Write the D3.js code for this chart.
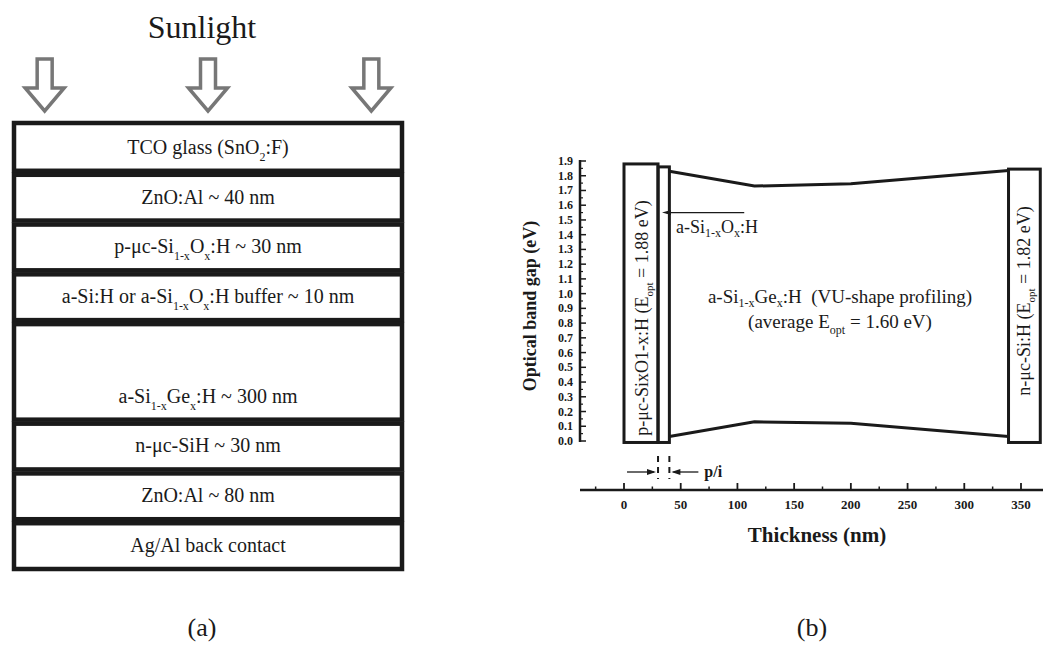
<!DOCTYPE html>
<html>
<head>
<meta charset="utf-8">
<script src="https://cdn.jsdelivr.net/npm/d3@7"></script>
<style>
  body { margin: 0; background: #fff; }
</style>
</head>
<body>
<div id="vis"></div>
<script>
// ==== DATA ====
// (a) device stack, top to bottom; _{..} marks a subscript
const layerLabels = [
  "TCO glass (SnO_{2}:F)",
  "ZnO:Al ~ 40 nm",
  "p-μc-Si_{1-x}O_{x}:H ~ 30 nm",
  "a-Si:H or a-Si_{1-x}O_{x}:H buffer ~ 10 nm",
  "a-Si_{1-x}Ge_{x}:H ~ 300 nm",
  "n-μc-SiH ~ 30 nm",
  "ZnO:Al ~ 80 nm",
  "Ag/Al back contact"
];
const layerRows = [1, 1, 1, 1, 2, 1, 1, 1];
const sunArrows = ["left", "centre", "right"];

// (b) band profile
const pLayer = {from: 0, to: 30, eopt: 1.88};
const bufferLayer = {from: 30, to: 40, top: 1.86};
const nLayer = {from: 339, to: 367, top: 1.845};
const profileThickness = [40, 115, 200, 339];
const conductionEdge = [1.83, 1.73, 1.745, 1.835];
const valenceEdge = [0.03, 0.13, 0.12, 0.03];
const yTicks = d3.range(0, 20).map(i => i / 10);
const xTicks = [0, 50, 100, 150, 200, 250, 300, 350];
const xMinorTicks = [-25, 25, 75, 125, 175, 225, 275, 325, 375];
const labelArrowEnergy = 1.55;

const width = 1043, height = 646;
const serif = "'Liberation Serif', 'Times New Roman', Times, serif";
const svg = d3.select("#vis").append("svg")
  .attr("width", width).attr("height", height)
  .attr("font-family", serif)
  .style("font-family", serif);

// text with _{sub} parts
function richText(sel, str, subSize, shift) {
  const parts = str.split(/(_\{[^}]*\})/).filter(s => s.length);
  let down = false;
  parts.forEach(p => {
    if (p.startsWith("_{")) {
      sel.append("tspan").attr("dy", shift).style("font-size", subSize + "px")
        .text(p.slice(2, -1));
      down = true;
    } else {
      const t = sel.append("tspan").text(p);
      if (down) { t.attr("dy", -shift); down = false; }
    }
  });
  return sel;
}

// ==== (a) STACK ====
const stackX = [12, 404];
const rowScale = d3.scaleLinear()
  .domain([0, d3.sum(layerRows)])
  .range([123, 571]);
const cum = d3.cumsum(layerRows);
const gapPx = 4;

svg.append("text")
  .attr("x", 202).attr("y", 38)
  .attr("text-anchor", "middle")
  .attr("fill", "#1a1a1a")
  .style("font-size", "32px")
  .text("Sunlight");

const arrowX = d3.scalePoint().domain(sunArrows).range(stackX).padding(0.2);
const arrowPath = cx => {
  const sw = 7.5, hw = 19.5, top = 59, neck = 88, tip = 111;
  return `M${cx - sw},${top}H${cx + sw}V${neck}H${cx + hw}L${cx},${tip}L${cx - hw},${neck}H${cx - sw}Z`;
};
svg.selectAll("path.sun")
  .data(sunArrows).enter().append("path")
  .attr("class", "sun")
  .attr("d", d => arrowPath(arrowX(d)))
  .attr("fill", "none")
  .attr("stroke", "#777")
  .attr("stroke-width", 3.5);

const layerG = svg.selectAll("g.layer")
  .data(layerLabels).enter().append("g").attr("class", "layer");

layerG.append("rect")
  .attr("x", stackX[0] + 2)
  .attr("width", stackX[1] - stackX[0] - 4)
  .attr("y", (d, i) => rowScale(cum[i] - layerRows[i]) + (i ? gapPx / 2 : 0))
  .attr("height", (d, i) => rowScale(cum[i]) - rowScale(cum[i] - layerRows[i]) - gapPx - (i ? 0 : -gapPx / 2))
  .attr("fill", "none")
  .attr("stroke", "#1a1a1a")
  .attr("stroke-width", 4.5);

layerG.append("text")
  .attr("x", 208)
  .attr("y", (d, i) => rowScale(cum[i]) - gapPx / 2 - 17)
  .attr("text-anchor", "middle")
  .attr("fill", "#1a1a1a")
  .style("font-size", "20px")
  .each(function(d) { richText(d3.select(this), d, 12, 7); });

svg.append("text")
  .attr("x", 202).attr("y", 636)
  .attr("text-anchor", "middle")
  .attr("fill", "#1a1a1a")
  .style("font-size", "26px")
  .text("(a)");

// ==== (b) BAND DIAGRAM ====
const x = d3.scaleLinear().domain([0, 350]).range([624, 1021]);
const y = d3.scaleLinear().domain([0, 1.9]).range([441, 161]);
const axisY = 490;
const bold = "bold";

// y axis
const yAxisX = 580;
svg.append("line")
  .attr("x1", yAxisX).attr("x2", yAxisX)
  .attr("y1", y(0) + 1).attr("y2", y(1.9) - 1)
  .attr("stroke", "#1a1a1a").attr("stroke-width", 2.5);
svg.selectAll("line.ytick")
  .data(yTicks).enter().append("line")
  .attr("x1", yAxisX).attr("x2", yAxisX + 6)
  .attr("y1", d => y(d)).attr("y2", d => y(d))
  .attr("stroke", "#1a1a1a").attr("stroke-width", 1.5);
svg.selectAll("line.ytickm")
  .data(yTicks.slice(0, -1)).enter().append("line")
  .attr("x1", yAxisX).attr("x2", yAxisX + 3)
  .attr("y1", d => y(d + 0.05)).attr("y2", d => y(d + 0.05))
  .attr("stroke", "#1a1a1a").attr("stroke-width", 1.2);
svg.selectAll("text.ylab")
  .data(yTicks).enter().append("text")
  .attr("x", 573).attr("y", d => y(d) + 4)
  .attr("text-anchor", "end")
  .attr("fill", "#1a1a1a")
  .style("font-size", "12px").style("font-weight", bold)
  .text(d => d3.format(".1f")(d));
svg.append("text")
  .attr("transform", "translate(536,306) rotate(-90)")
  .attr("text-anchor", "middle")
  .attr("fill", "#1a1a1a")
  .style("font-size", "18px").style("font-weight", bold)
  .text("Optical band gap (eV)");

// x axis
svg.append("line")
  .attr("x1", 580).attr("x2", width)
  .attr("y1", axisY).attr("y2", axisY)
  .attr("stroke", "#1a1a1a").attr("stroke-width", 2.5);
svg.selectAll("line.xtick")
  .data(xTicks).enter().append("line")
  .attr("x1", d => x(d)).attr("x2", d => x(d))
  .attr("y1", axisY).attr("y2", axisY - 7)
  .attr("stroke", "#1a1a1a").attr("stroke-width", 1.8);
svg.selectAll("line.xtickm")
  .data(xMinorTicks).enter().append("line")
  .attr("x1", d => x(d)).attr("x2", d => x(d))
  .attr("y1", axisY).attr("y2", axisY - 3.5)
  .attr("stroke", "#1a1a1a").attr("stroke-width", 1.5);
svg.selectAll("text.xlab")
  .data(xTicks).enter().append("text")
  .attr("x", d => x(d)).attr("y", 509)
  .attr("text-anchor", "middle")
  .attr("fill", "#1a1a1a")
  .style("font-size", "13px").style("font-weight", bold)
  .text(d => d);
svg.append("text")
  .attr("x", 817).attr("y", 542)
  .attr("text-anchor", "middle")
  .attr("fill", "#1a1a1a")
  .style("font-size", "21px").style("font-weight", bold)
  .text("Thickness (nm)");

// layer boxes
const boxes = [
  {from: pLayer.from, to: pLayer.to, top: pLayer.eopt},
  bufferLayer,
  nLayer
];
svg.selectAll("rect.band")
  .data(boxes).enter().append("rect")
  .attr("x", d => x(d.from))
  .attr("width", d => x(d.to) - x(d.from))
  .attr("y", d => y(d.top))
  .attr("height", d => y(-0.01) - y(d.top))
  .attr("fill", "none")
  .attr("stroke", "#1a1a1a").attr("stroke-width", 3);

// band edges
const edge = d3.line().x(d => x(d[0])).y(d => y(d[1]));
[conductionEdge, valenceEdge].forEach(e => {
  svg.append("path")
    .attr("d", edge(d3.zip(profileThickness, e)))
    .attr("fill", "none")
    .attr("stroke", "#1a1a1a").attr("stroke-width", 3);
});

// vertical labels
svg.append("text")
  .attr("transform", `translate(${x((pLayer.from + pLayer.to) / 2) + 7},318) rotate(-90)`)
  .attr("text-anchor", "middle")
  .attr("fill", "#1a1a1a")
  .style("font-size", "18px")
  .each(function() { richText(d3.select(this), "p-μc-SixO1-x:H (E_{opt} = 1.88 eV)", 11, 5); });
svg.append("text")
  .attr("transform", `translate(${x((nLayer.from + nLayer.to) / 2) + 6},301) rotate(-90)`)
  .attr("text-anchor", "middle")
  .attr("fill", "#1a1a1a")
  .style("font-size", "18px")
  .each(function() { richText(d3.select(this), "n-μc-Si:H (E_{opt} = 1.82 eV)", 11, 5); });

// a-Si1-xOx:H pointer
const ay = y(labelArrowEnergy);
svg.append("line")
  .attr("x1", x(106)).attr("x2", x(bufferLayer.from) + 8)
  .attr("y1", ay).attr("y2", ay)
  .attr("stroke", "#1a1a1a").attr("stroke-width", 1.3);
svg.append("path")
  .attr("d", `M${x(bufferLayer.from) + 4},${ay}l9,-2.5v5z`)
  .attr("fill", "#1a1a1a");
svg.append("text")
  .attr("x", 676).attr("y", ay + 20)
  .attr("fill", "#1a1a1a")
  .style("font-size", "18px")
  .each(function() { richText(d3.select(this), "a-Si_{1-x}O_{x}:H", 12, 4); });

// centre label
svg.append("text")
  .attr("x", 840).attr("y", 303)
  .attr("text-anchor", "middle")
  .attr("fill", "#1a1a1a")
  .style("font-size", "19px")
  .style("white-space", "pre")
  .each(function() { richText(d3.select(this), "a-Si_{1-x}Ge_{x}:H  (VU-shape profiling)", 12, 4); });
svg.append("text")
  .attr("x", 840).attr("y", 328)
  .attr("text-anchor", "middle")
  .attr("fill", "#1a1a1a")
  .style("font-size", "19px")
  .each(function() { richText(d3.select(this), "(average E_{opt} = 1.60 eV)", 12, 6); });

// p/i interface marker
[bufferLayer.from, bufferLayer.to].forEach(v => {
  svg.append("line")
    .attr("x1", x(v)).attr("x2", x(v))
    .attr("y1", 456).attr("y2", 479)
    .attr("stroke", "#1a1a1a").attr("stroke-width", 2)
    .attr("stroke-dasharray", "6,5");
});
const py = 472;
const xl = x(bufferLayer.from), xr = x(bufferLayer.to);
svg.append("line").attr("x1", xl - 31).attr("x2", xl - 4)
  .attr("y1", py).attr("y2", py).attr("stroke", "#1a1a1a").attr("stroke-width", 1.3);
svg.append("path").attr("d", `M${xl - 2},${py}l-9,-3v6z`).attr("fill", "#1a1a1a");
svg.append("line").attr("x1", xr + 4).attr("x2", xr + 29)
  .attr("y1", py).attr("y2", py).attr("stroke", "#1a1a1a").attr("stroke-width", 1.3);
svg.append("path").attr("d", `M${xr + 2},${py}l9,-3v6z`).attr("fill", "#1a1a1a");
svg.append("text")
  .attr("x", xr + 35).attr("y", 477)
  .attr("fill", "#1a1a1a")
  .style("font-size", "16px").style("font-weight", bold)
  .text("p/i");

svg.append("text")
  .attr("x", 812).attr("y", 636)
  .attr("text-anchor", "middle")
  .attr("fill", "#1a1a1a")
  .style("font-size", "26px")
  .text("(b)");
</script>
</body>
</html>
